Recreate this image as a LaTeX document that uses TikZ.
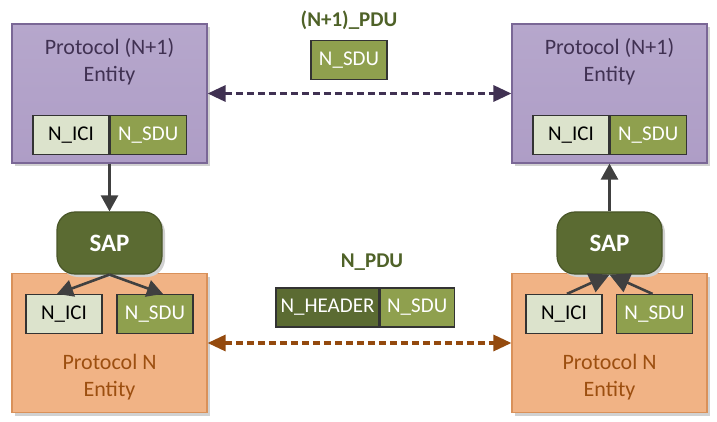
\documentclass[tikz,border=0pt]{standalone}
\usepackage{fontspec}
\setmainfont{Carlito}
\usetikzlibrary{arrows.meta,positioning,shadows}
\definecolor{entpurple}{HTML}{AE9DC6}
\definecolor{entpurpletop}{HTML}{B6A7CC}
\definecolor{entpurpleline}{HTML}{7A6796}
\definecolor{txtpurple}{HTML}{403152}
\definecolor{entorange}{HTML}{F1B385}
\definecolor{entorangeline}{HTML}{D9915A}
\definecolor{txtorange}{HTML}{9C4F10}
\definecolor{icigreen}{HTML}{DCE3CC}
\definecolor{sdugreen}{HTML}{8FA04E}
\definecolor{sapgreen}{HTML}{5B6B32}
\definecolor{lblgreen}{HTML}{4F6228}
\definecolor{arrgray}{HTML}{404040}
\definecolor{arrbrown}{HTML}{944A0E}
\tikzset{
  entity/.style={draw=#1line, line width=0.6pt, minimum width=97.5pt, minimum height=69.5pt,
    drop shadow={shadow xshift=1.5pt, shadow yshift=-1.5pt, fill=black!18, opacity=1}},
  field/.style={draw=black!80, line width=0.6pt, minimum height=19.5pt, inner sep=0pt,
    font=\fontsize{10.5}{12}\selectfont},
  icibox/.style={field, fill=icigreen, text=black, minimum width=38pt},
  sdubox/.style={field, fill=sdugreen, text=white, minimum width=38pt},
  sapbox/.style={draw=sapgreen!80!black, line width=0.6pt, fill=sapgreen, text=white, rounded corners=9pt,
    minimum width=52.5pt, minimum height=31pt, font=\fontsize{12.5}{14}\selectfont\bfseries,
    drop shadow={shadow xshift=1.5pt, shadow yshift=-1.5pt, fill=black!18, opacity=1}},
  title/.style={align=center, font=\fontsize{11}{13.5}\selectfont},
  pdulabel/.style={font=\fontsize{10.5}{12}\selectfont\bfseries, text=lblgreen},
  flow/.style={arrgray, line width=1.3pt, -{Triangle[length=8pt, width=8.5pt]}},
  bigflow/.style={arrgray, line width=1.3pt, -{Triangle[length=10pt, width=10pt]}},
  peer/.style={line width=1.6pt, dash pattern=on 3.5pt off 2pt,
    {Triangle[length=9pt, width=8pt]}-{Triangle[length=9pt, width=8pt]}}
}
\begin{document}
\begin{tikzpicture}[x=0.5pt, y=-0.5pt]
    \useasboundingbox (0, 0) rectangle (717, 422);
    % upper layer (N+1)
    \node [entity=entpurple, top color=entpurpletop, bottom color=entpurple] (topL) at (109.5, 93.5) {};
    \node [entity=entpurple, top color=entpurpletop, bottom color=entpurple] (topR) at (609.5, 93.5) {};
    \node [title, text=txtpurple] (titleL) at (109.5, 61.5) {Protocol (N+1)\\Entity};
    \node [title, text=txtpurple] (titleR) at (609.5, 61.5) {Protocol (N+1)\\Entity};
    \node [icibox] (iciTL) at (71, 135) {N\_ICI};
    \node [sdubox, right=0pt of iciTL] (sduTL) {N\_SDU};
    \node [icibox] (iciTR) at (571, 135) {N\_ICI};
    \node [sdubox, right=0pt of iciTR] (sduTR) {N\_SDU};
    % lower layer N
    \node [entity=entorange, fill=entorange] (botL) at (109.5, 343) {};
    \node [entity=entorange, fill=entorange] (botR) at (609.5, 343) {};
    \node [title, text=txtorange] (nameL) at (109.5, 377) {Protocol N\\Entity};
    \node [title, text=txtorange] (nameR) at (609.5, 377) {Protocol N\\Entity};
    \node [icibox] (iciBL) at (64, 314) {N\_ICI};
    \node [sdubox] (sduBL) at (155, 314) {N\_SDU};
    \node [icibox] (iciBR) at (564, 314) {N\_ICI};
    \node [sdubox] (sduBR) at (654.5, 314) {N\_SDU};
    % service access points
    \node [sapbox] (sapL) at (109.5, 243) {SAP};
    \node [sapbox] (sapR) at (609.5, 243) {SAP};
    % PDUs in the middle
    \node [pdulabel] (pduUp) at (349, 20) {(N+1)\_PDU};
    \node [sdubox] (sduUp) at (349, 60) {N\_SDU};
    \node [pdulabel] (pduLow) at (372, 262) {N\_PDU};
    \node [field, fill=sapgreen, text=white, minimum width=51.5pt] (hdrLow) at (327.5, 307.5) {N\_HEADER};
    \node [sdubox, minimum width=37pt, right=0pt of hdrLow] (sduLow) {N\_SDU};
    % connectors
    \draw [peer, txtpurple] (topL.east) -- (topR.west);
    \draw [peer, arrbrown] (botL.east) -- (botR.west);
    \draw [flow] (topL.south) -- (sapL.north);
    \draw [flow] (sapL.south) -- ([xshift=-3.5pt]iciBL.north);
    \draw [flow] (sapL.south) -- ([xshift=4pt]sduBL.north);
    \draw [bigflow] ([xshift=1.5pt]iciBR.north) -- (sapR.south);
    \draw [bigflow] ([xshift=-1pt]sduBR.north) -- (sapR.south);
    \draw [flow] (sapR.north) -- (topR.south);
\end{tikzpicture}
\end{document}
